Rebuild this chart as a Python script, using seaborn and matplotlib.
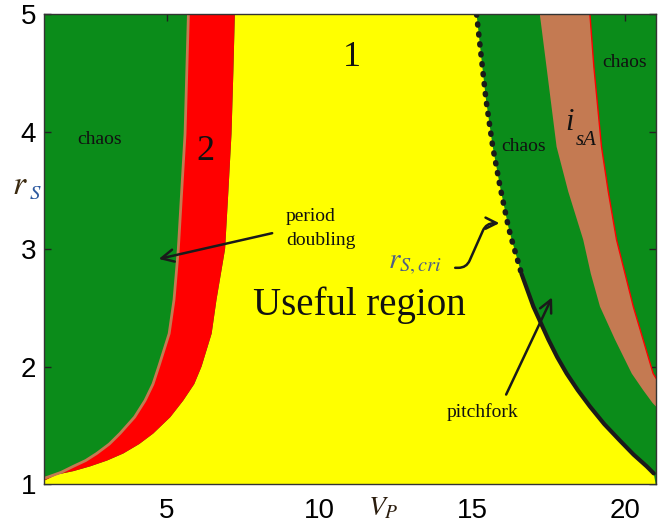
import seaborn as sns
import matplotlib.pyplot as plt

# Boundaries, as (VP, rS) pairs along each curve

# period-doubling boundary (chaos -> period 2), left side
rs_pd = [5.0, 3.98, 3.0, 2.57, 2.28, 2.0, 1.85, 1.71, 1.57, 1.43, 1.34, 1.26, 1.20, 1.15, 1.10, 1.06, 1.05]
vp_pd = [5.71, 5.60, 5.38, 5.24, 5.08, 4.74, 4.55, 4.29, 3.95, 3.47, 3.12, 2.71, 2.35, 1.94, 1.55, 1.12, 1.0]

# period 2 -> period 1 boundary
rs_p2 = [5.0, 4.5, 3.98, 3.5, 3.0, 2.57, 2.28, 2.0, 1.85, 1.71, 1.57, 1.43, 1.34, 1.26, 1.20, 1.15, 1.11, 1.08, 1.03]
vp_p2 = [7.23, 7.18, 7.12, 7.02, 6.91, 6.63, 6.47, 6.14, 5.90, 5.54, 5.12, 4.56, 4.10, 3.58, 3.05, 2.49, 1.95, 1.40, 1.0]

# critical curve r_S,cri (pitchfork)
rs_cri = [5.0, 4.55, 4.27, 3.87, 3.53, 3.19, 3.08, 2.79, 2.51, 2.23, 2.08, 1.94, 1.80, 1.66, 1.51, 1.37, 1.25, 1.15, 1.09]
vp_cri = [15.14, 15.33, 15.45, 15.67, 15.91, 16.18, 16.29, 16.61, 17.0, 17.49, 17.78, 18.09, 18.45, 18.85, 19.32, 19.83, 20.28, 20.71, 20.94]

# i_sA band, left and right edges
rs_isa_l = [5.0, 4.55, 3.87, 3.49, 3.08, 2.79, 2.51, 2.23, 1.94, 1.80, 1.69, 1.5]
vp_isa_l = [17.21, 17.43, 17.76, 18.14, 18.63, 18.88, 19.18, 19.67, 20.22, 20.59, 20.9, 21.6]
rs_isa_r = [5.0, 4.55, 3.87, 3.49, 3.08, 2.79, 2.51, 2.23, 1.94, 1.7]
vp_isa_r = [18.85, 18.98, 19.23, 19.45, 19.72, 20.0, 20.27, 20.59, 20.92, 21.5]

x_ticks = [5, 10, 15, 20]
y_ticks = [1, 2, 3, 4, 5]

green = '#0b8c1a'
yellow = '#ffff00'
red = '#ff0000'
brown = '#c47a52'

sns.set_theme(style="ticks")
plt.rcParams['font.family'] = ['Liberation Serif', 'DejaVu Serif']
plt.rcParams['mathtext.fontset'] = 'stix'

fig, ax = plt.subplots(figsize=(6.7, 5.31), dpi=100)
fig.subplots_adjust(left=0.0664, right=0.9785, top=0.9736, bottom=0.0885)
ax.set_facecolor(green)

# useful region (period 1)
ax.fill(vp_p2 + [1.0, 21.0] + vp_cri[::-1], rs_p2 + [1.0, 1.0] + rs_cri[::-1],
        color=yellow, lw=0)
# period 2 band
ax.fill(vp_pd + vp_p2[::-1], rs_pd + rs_p2[::-1], color=red, lw=0)
sns.lineplot(x=vp_pd, y=rs_pd, sort=False, estimator=None, color=brown, lw=2, ax=ax)
# i_sA band
ax.fill(vp_isa_l + vp_isa_r[::-1], rs_isa_l + rs_isa_r[::-1], color=brown, lw=0)
sns.lineplot(x=vp_isa_r, y=rs_isa_r, sort=False, estimator=None, color=red, lw=1, ax=ax)

# r_S,cri curve: dotted above, solid below
sns.lineplot(x=vp_cri[:8], y=rs_cri[:8], sort=False, estimator=None, color='k',
             lw=4, linestyle=(0, (0.2, 1.6)), dash_capstyle='round', ax=ax)
sns.lineplot(x=vp_cri[7:], y=rs_cri[7:], sort=False, estimator=None, color='k',
             lw=3, ax=ax)

ax.set_xlim(1, 21)
ax.set_ylim(1, 5)
ax.set_xticks(x_ticks)
ax.set_yticks(y_ticks)
ax.set_xlabel('')
ax.set_ylabel('')
ax.tick_params(direction='in', length=5, width=1, top=True, right=True,
               labelsize=20, colors='#222222')
ax.tick_params(axis='x', pad=10)
ax.tick_params(axis='y', pad=6)
for lbl in ax.get_xticklabels() + ax.get_yticklabels():
    lbl.set_fontfamily('Liberation Sans')
    lbl.set_color('black')
for s in ax.spines.values():
    s.set_color('#333333')
    s.set_linewidth(1)

tc = '#111111'
ax.text(11.06, 4.63, "1", fontsize=26, ha='center', va='center', color=tc)
ax.text(6.28, 3.83, "2", fontsize=26, ha='center', va='center', color=tc)
ax.text(2.79, 3.93, "chaos", fontsize=14, ha='center', va='center', color=tc)
ax.text(16.69, 3.87, "chaos", fontsize=14, ha='center', va='center', color=tc)
ax.text(20.0, 4.59, "chaos", fontsize=14, ha='center', va='center', color=tc)
ax.text(18.2, 4.08, "i", fontsize=22, style='italic', ha='center', va='center', color=tc)
ax.text(18.72, 3.92, "sA", fontsize=15, style='italic', ha='center', va='center', color=tc)
ax.text(8.9, 3.28, "period", fontsize=14, ha='left', va='center', color=tc)
ax.text(8.9, 3.07, "doubling", fontsize=14, ha='left', va='center', color=tc)
ax.text(11.32, 2.52, "Useful region", fontsize=28, ha='center', va='center', color=tc)
ax.text(13.12, 2.87, r"$r_{S,cri}$", fontsize=21, ha='center', va='center', color='#4f5f86')
ax.text(15.32, 1.61, "pitchfork", fontsize=14, ha='center', va='center', color=tc)

arrow = dict(arrowstyle='->', lw=1.8, color='k', mutation_scale=22)
ax.annotate("", xy=(4.65, 2.91), xytext=(8.54, 3.14), arrowprops=arrow)
ax.annotate("", xy=(17.65, 2.61), xytext=(16.07, 1.74), arrowprops=arrow)
ax.annotate("", xy=(15.98, 3.22), xytext=(14.35, 2.84),
            arrowprops=dict(arrowstyle='->', lw=1.8, color='k', mutation_scale=20,
                            connectionstyle="arc,angleA=0,angleB=180,armA=14,armB=16,rad=8"))

# axis labels placed like the original (inside the tick-label band)
ax.text(12.08, 0.79, r"$V_P$", fontsize=20, ha='center', va='center', color='#2b1d0e')
ax.text(0.20, 3.54, r"$r$", fontsize=24, ha='center', va='center', color='#3b2a10')
ax.text(0.70, 3.46, r"$S$", fontsize=15, ha='center', va='center', color='#2d5aa0')

fig.savefig('out.png', dpi=100)
